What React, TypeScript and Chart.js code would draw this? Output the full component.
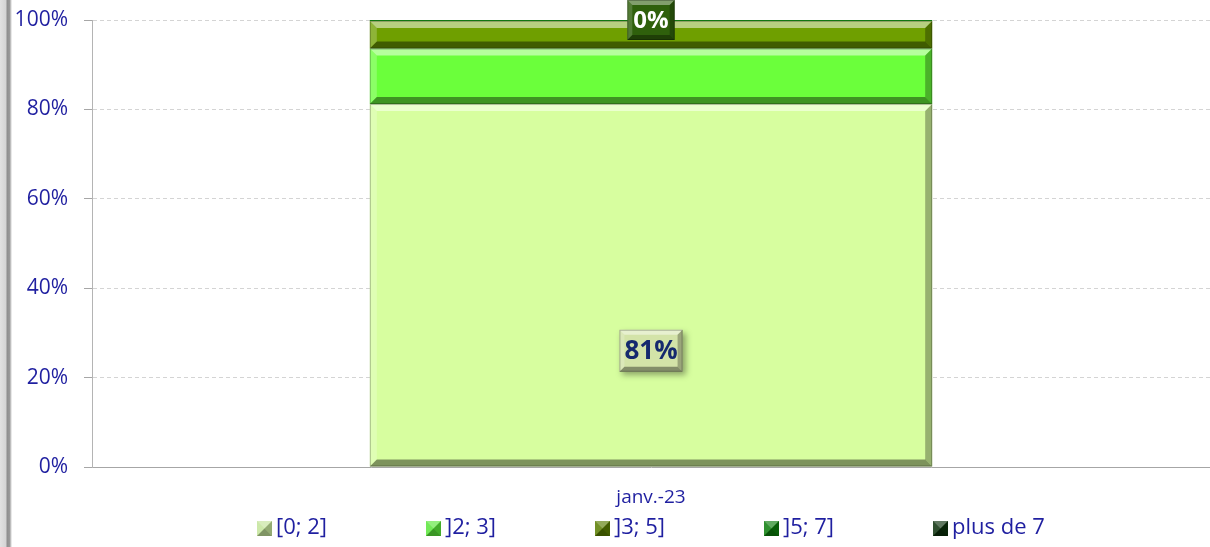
import React, { useEffect, useRef } from "react";
import { Chart, registerables } from "chart.js";

Chart.register(...registerables);

// ---------- data ----------
const categories = ["janv.-23"];
const seriesNames = ["[0; 2]", "]2; 3]", "]3; 5]", "]5; 7]", "plus de 7"];
const share02 = [81.2];
const share23 = [12.4];
const share35 = [6.2];
const share57 = [0.2];
const sharePlus7 = [0];
const yTickValues = [0, 20, 40, 60, 80, 100];
const labelVisible = [true, false, false, true, false];

const seriesValues = [share02, share23, share35, share57, sharePlus7];

// ---------- styles ----------
const fillColors = ["#d7fe9f", "#6bff3b", "#6f9f00", "#127a12", "#0c340c"];
const legendColors = ["#c4e49a", "#5ae63a", "#5a7d00", "#0b7d0b", "#0b300b"];
const labelBoxFill = ["#d3e3a8", "", "", "#2f600c", ""];
const labelTextColor = ["#15296e", "", "", "#ffffff", ""];
// vertical anchor of each data label, in axis units (null = segment centre)
const labelAnchorValue = [26, null, null, 100, null];
const TEXT_BLUE = "#1f1fa0";
const FONT = "'Open Sans', 'Noto Sans', sans-serif";

function poly(ctx: CanvasRenderingContext2D, pts: number[], color: string) {
  ctx.beginPath();
  ctx.moveTo(pts[0], pts[1]);
  for (let i = 2; i < pts.length; i += 2) ctx.lineTo(pts[i], pts[i + 1]);
  ctx.closePath();
  ctx.fillStyle = color;
  ctx.fill();
}

function drawBevel(ctx: CanvasRenderingContext2D, x: number, y: number, w: number, h: number, b: number, strength = 1) {
  ctx.save();
  poly(ctx, [x, y, x + w, y, x + w - b, y + b, x + b, y + b], `rgba(255,255,255,${0.5 * strength})`);
  poly(ctx, [x, y, x + b, y + b, x + b, y + h - b, x, y + h], `rgba(255,255,255,${0.22 * strength})`);
  poly(ctx, [x + w, y, x + w, y + h, x + w - b, y + h - b, x + w - b, y + b], `rgba(0,0,0,${0.3 * strength})`);
  poly(ctx, [x, y + h, x + w, y + h, x + w - b, y + h - b, x + b, y + h - b], `rgba(0,0,0,${0.42 * strength})`);
  ctx.strokeStyle = "rgba(0,0,0,0.25)";
  ctx.lineWidth = 1;
  ctx.strokeRect(x + 0.5, y + 0.5, w - 1, h - 1);
  ctx.restore();
}

const bevelPlugin = {
  id: "bevel",
  afterDatasetsDraw(chart: any) {
    const ctx = chart.ctx;
    chart.data.datasets.forEach((_ds: any, di: number) => {
      const meta = chart.getDatasetMeta(di);
      meta.data.forEach((el: any) => {
        const { x, y, base, width } = el.getProps(["x", "y", "base", "width"], true);
        const top = Math.min(y, base);
        const h = Math.abs(base - y);
        if (h < 3) return;
        drawBevel(ctx, x - width / 2, top, width, h, Math.min(7, h / 3));
      });
    });
  },
};

const labelPlugin = {
  id: "segLabels",
  afterDatasetsDraw(chart: any) {
    const ctx: CanvasRenderingContext2D = chart.ctx;
    const yScale = chart.scales.y;
    chart.data.datasets.forEach((ds: any, di: number) => {
      if (!labelVisible[di]) return;
      const meta = chart.getDatasetMeta(di);
      meta.data.forEach((el: any, i: number) => {
        const { x, y, base } = el.getProps(["x", "y", "base"], true);
        const anchor = labelAnchorValue[di];
        const cy = anchor == null ? (y + base) / 2 : yScale.getPixelForValue(anchor);
        const text = Math.round(ds.data[i]) + "%";
        const big = di === 0;
        ctx.save();
        ctx.font = `bold ${big ? 26 : 24}px ${FONT}`;
        const tw = ctx.measureText(text).width;
        const bw = tw + (big ? 10 : 12);
        const bh = big ? 42 : 40;
        const bx = x - bw / 2;
        const by = cy - bh / 2;
        if (big) {
          ctx.shadowColor = "rgba(0,0,0,0.35)";
          ctx.shadowBlur = 6;
          ctx.shadowOffsetX = 3;
          ctx.shadowOffsetY = 3;
        }
        ctx.fillStyle = labelBoxFill[di];
        ctx.fillRect(bx, by, bw, bh);
        ctx.shadowColor = "transparent";
        drawBevel(ctx, bx, by, bw, bh, 5, big ? 0.9 : 0.8);
        ctx.fillStyle = labelTextColor[di];
        ctx.textAlign = "center";
        ctx.textBaseline = "middle";
        ctx.fillText(text, x, cy + 1);
        ctx.restore();
      });
    });
  },
};

const legendPlugin = {
  id: "excelLegend",
  afterDraw(chart: any) {
    const ctx: CanvasRenderingContext2D = chart.ctx;
    const area = chart.chartArea;
    ctx.save();
    ctx.font = `22px ${FONT}`;
    const icon = 15;
    const gap = 4;
    const widths = seriesNames.map((n) => icon + gap + ctx.measureText(n).width);
    const slot = Math.max(...widths) + 57;
    const total = slot * (seriesNames.length - 1) + widths[widths.length - 1];
    const center = (area.left + area.right) / 2;
    let x = center - total / 2;
    const cy = chart.height - 19;
    seriesNames.forEach((name, i) => {
      const ix = Math.round(x);
      const iy = Math.round(cy - icon / 2);
      ctx.fillStyle = legendColors[i];
      ctx.fillRect(ix, iy, icon, icon);
      poly(ctx, [ix, iy, ix + icon, iy, ix + icon / 2, iy + icon / 2], "rgba(255,255,255,0.35)");
      poly(ctx, [ix, iy, ix + icon / 2, iy + icon / 2, ix, iy + icon], "rgba(255,255,255,0.15)");
      poly(ctx, [ix + icon, iy, ix + icon, iy + icon, ix + icon / 2, iy + icon / 2], "rgba(0,0,0,0.25)");
      poly(ctx, [ix, iy + icon, ix + icon, iy + icon, ix + icon / 2, iy + icon / 2], "rgba(0,0,0,0.35)");
      ctx.fillStyle = TEXT_BLUE;
      ctx.textAlign = "left";
      ctx.textBaseline = "middle";
      ctx.fillText(name, ix + icon + gap, cy);
      x += slot;
    });
    ctx.restore();
  },
};

export default function App() {
  const canvasRef = useRef<HTMLCanvasElement | null>(null);

  useEffect(() => {
    const canvas = canvasRef.current;
    if (!canvas) return;
    const chart = new Chart(canvas, {
      type: "bar",
      data: {
        labels: categories,
        datasets: seriesNames.map((name, i) => ({
          label: name,
          data: seriesValues[i],
          backgroundColor: fillColors[i],
          borderWidth: 0,
          barPercentage: 0.503,
          categoryPercentage: 1,
        })),
      },
      options: {
        responsive: false,
        animation: false,
        events: [],
        layout: { padding: { top: 20, right: 0, left: 0, bottom: 38 } },
        plugins: {
          legend: { display: false },
          tooltip: { enabled: false },
          title: { display: false },
        },
        scales: {
          x: {
            stacked: true,
            grid: { display: false, drawTicks: false },
            border: { display: true, color: "#a6a6a6", width: 1 },
            ticks: {
              color: TEXT_BLUE,
              font: { family: FONT, size: 19 },
              padding: 19,
            },
            afterFit: (scale: any) => {
              scale.height = 42;
              scale.paddingRight = 0;
              scale.paddingLeft = 0;
            },
          },
          y: {
            stacked: true,
            min: 0,
            max: 100,
            afterBuildTicks: (scale: any) => {
              scale.ticks = yTickValues.map((v) => ({ value: v }));
            },
            grid: {
              color: "#d4d4d4",
              drawTicks: true,
              tickLength: 8,
              tickColor: "#a6a6a6",
              tickBorderDash: [],
            } as any,
            border: { display: true, color: "#b4b4b4", width: 1, dash: [4, 3] } as any,
            ticks: {
              color: TEXT_BLUE,
              font: { family: FONT, size: 21 },
              padding: 16,
              callback: (v: any) => v + "%",
            },
            afterFit: (scale: any) => {
              scale.width = 92;
              scale.paddingTop = 0;
              scale.paddingBottom = 0;
            },
          },
        },
      },
      plugins: [bevelPlugin, labelPlugin, legendPlugin],
    });
    return () => chart.destroy();
  }, []);

  return (
    <div style={{ position: "absolute", left: 0, top: 0, width: 1210, height: 547, background: "#ffffff" }}>
      <canvas ref={canvasRef} width={1210} height={547} style={{ display: "block", width: 1210, height: 547 }} />
      <div
        style={{
          position: "absolute",
          left: 0,
          top: 0,
          width: 12,
          height: 547,
          pointerEvents: "none",
          background:
            "linear-gradient(to right, #e2e2e2 0px, #d4d4d4 6px, #8e8e8e 7px, #9c9c9c 10px, #dedede 11px, #f2f2f2 12px)",
        }}
      />
    </div>
  );
}
